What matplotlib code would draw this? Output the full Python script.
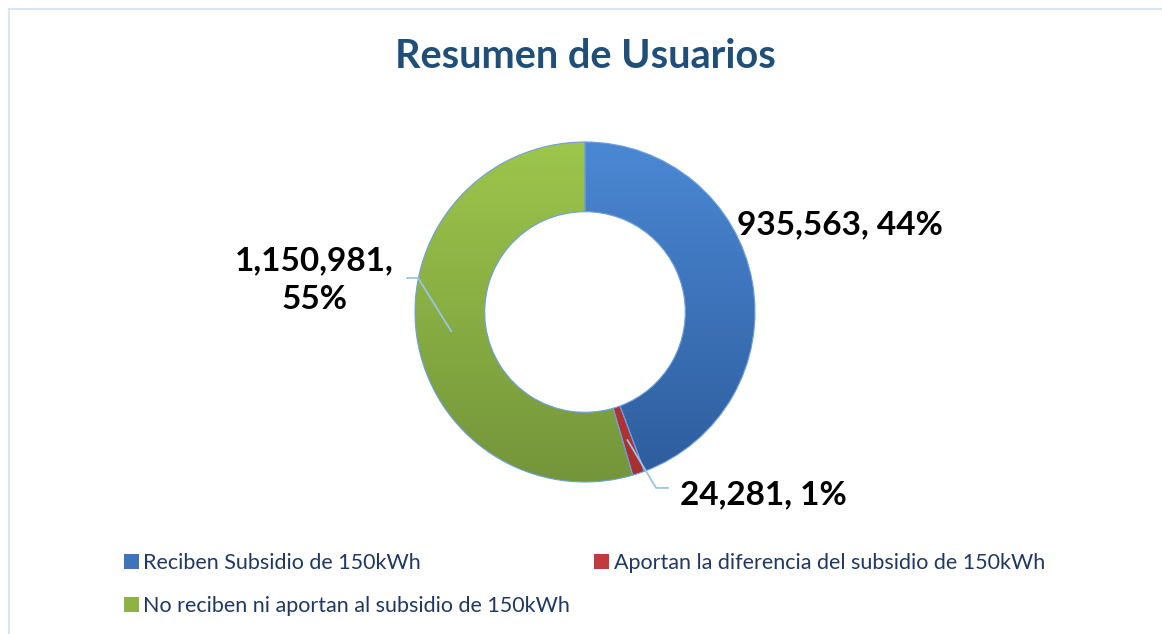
import numpy as np
import matplotlib.pyplot as plt
from matplotlib.patches import Rectangle
from matplotlib.colors import LinearSegmentedColormap

plt.rcParams['font.family'] = ['Lato', 'DejaVu Sans']

# datos
categorias = ['Reciben Subsidio de 150kWh',
              'Aportan la diferencia del subsidio de 150kWh',
              'No reciben ni aportan al subsidio de 150kWh']
usuarios = [935563, 24281, 1150981]
colores_top = ['#4B88D4', '#D04545', '#9DC64C']
colores_bottom = ['#2D5C9C', '#A82F2F', '#74953A']
colores_legend = ['#3F73BA', '#C03C3C', '#8DB443']

fig = plt.figure(figsize=(11.62, 6.34), dpi=100)

# marco
fig.patches.append(Rectangle((9 / 1162, -0.1), 1.2, 1 - 9 / 634 + 0.1,
                             transform=fig.transFigure, fill=False,
                             edgecolor='#DAE6F3', linewidth=1.5))

fig.text(585 / 1162, 1 - 57 / 634, 'Resumen de Usuarios', ha='center', va='center',
         fontsize=28.5, fontweight='bold', color='#1F4E79')

R = 170.0
ax = fig.add_axes([(585 - 200) / 1162, (322 - 200) / 634, 400 / 1162, 400 / 634])
lim = 200 / R
ax.set_xlim(-lim, lim)
ax.set_ylim(-lim, lim)
ax.axis('off')

wedges, _ = ax.pie(usuarios, radius=1, startangle=90, counterclock=False,
                   wedgeprops=dict(width=0.41, edgecolor='#6C9FDC', linewidth=0.8),
                   colors=colores_legend)

# degradado vertical en cada segmento
grad = np.linspace(0, 1, 256).reshape(-1, 1)
for w, ct, cb in zip(wedges, colores_top, colores_bottom):
    cmap = LinearSegmentedColormap.from_list('g', [ct, cb])
    im = ax.imshow(grad, extent=[-1, 1, -1, 1], cmap=cmap, aspect='auto',
                   origin='upper', zorder=w.get_zorder())
    im.set_clip_path(w)
    w.set_facecolor('none')
    w.set_zorder(w.get_zorder() + 1)
ax.set_xlim(-lim, lim)
ax.set_ylim(-lim, lim)

total = sum(usuarios)
etiquetas = ['{:,}, {:.0f}%'.format(v, 100 * v / total) for v in usuarios]
etiquetas[2] = etiquetas[2].replace(', ', ',\n')

lab_kw = dict(fontsize=24, fontweight='bold', color='black', clip_on=False)

# azul: sin guía
ax.text(0.894, 0.512, etiquetas[0], ha='left', va='center', **lab_kw)

line_kw = dict(color='#9DC3E6', linewidth=1.3, clip_on=False, zorder=5)
mids = [(w.theta1 + w.theta2) / 2 for w in wedges]

# rojo
a = np.deg2rad(mids[1])
ax.plot([0.795 * np.cos(a), 0.418, 0.488], [0.795 * np.sin(a), -1.035, -1.035], **line_kw)
ax.text(0.559, -1.076, etiquetas[1], ha='left', va='center', **lab_kw)

# verde
a = np.deg2rad(mids[2])
ax.plot([0.795 * np.cos(a), -0.982, -1.047], [0.795 * np.sin(a), 0.2, 0.2], **line_kw)
ax.text(-1.59, 0.188, etiquetas[2], ha='center', va='center', linespacing=1.4, **lab_kw)

# leyenda
handles = [Rectangle((0, 0), 1, 1, facecolor=c, edgecolor='none') for c in colores_legend]
order = [0, 2, 1]
fig.legend([handles[i] for i in order], [categorias[i] for i in order],
           loc='upper left', bbox_to_anchor=(124 / 1162, 1 - 553 / 634), ncol=2,
           frameon=False, fontsize=15.5, handlelength=0.7, handleheight=0.7,
           handletextpad=0.2, columnspacing=1.12, labelspacing=1.05,
           labelcolor='#1F3864', borderpad=0, borderaxespad=0)

fig.savefig('out.png', dpi=100)
